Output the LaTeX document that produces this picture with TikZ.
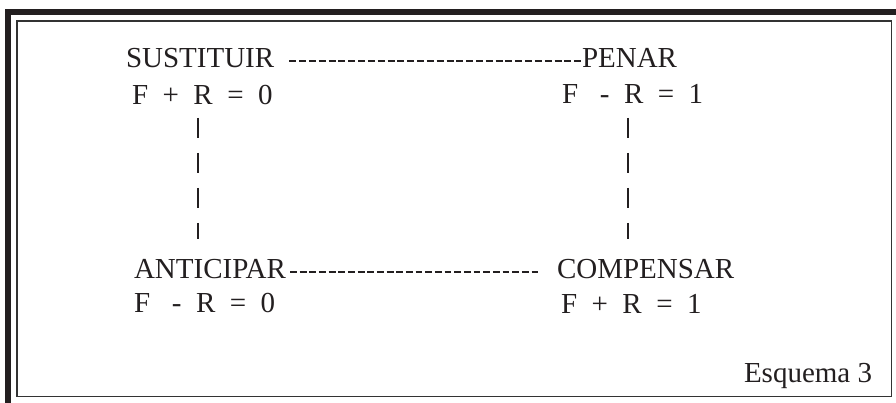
\documentclass[tikz,border=0pt]{standalone}
\usepackage{fontspec}
\setmainfont{Liberation Serif}
\definecolor{ink}{HTML}{231F20}
\begin{document}
\begin{tikzpicture}[x=1pt,y=-1pt,
  lbl/.style={anchor=base west,inner sep=0pt,outer sep=0pt,text=ink,
              font=\fontsize{29}{34}\selectfont},
  hlink/.style={draw=ink,line width=2pt,dash pattern=on 6.9pt off 2.76pt},
  vlink/.style={draw=ink,line width=1.7pt,dash pattern=on 20pt off 15pt},
  frameline/.style={draw=black!80,line width=1.3pt}]
% page
\useasboundingbox (0,0) rectangle (896,403);
\fill[white] (0,0) rectangle (896,403);
% heavy outer rule (left and top) and thin inner frame
\fill[ink] (5,9) rectangle (11,403);
\fill[ink] (5,9) rectangle (896,15);
\draw[frameline] (17,21) rectangle (891.7,396.7);
% the four operations and their formulas
\node[lbl] (sust)  at (126,68)  {SUSTITUIR};
\node[lbl] (penar) at (582,68)  {PENAR};
\node[lbl] (eqA)   at (132,105) {F\ \ +\ \ R\ \ =\ \ 0};
\node[lbl] (eqB)   at (562,104) {F\ \ \ -\ \ R\ \ =\ \ 1};
\node[lbl] (antic) at (134,278) {ANTICIPAR};
\node[lbl] (comp)  at (557,278) {COMPENSAR};
\node[lbl] (eqC)   at (134,312) {F\ \ \ -\ \ R\ \ =\ \ 0};
\node[lbl] (eqD)   at (561,313) {F\ \ +\ \ R\ \ =\ \ 1};
\node[lbl] (esq)   at (744,382) {Esquema 3};
% horizontal links
\draw[hlink,dash pattern=on 7pt off 2.83pt]
             ([xshift=15pt,yshift=6.5pt]sust.base east)
          -- ([xshift=-1pt,yshift=6.5pt]penar.base west);
\draw[hlink] ([xshift=4pt,yshift=6.5pt]antic.base east)
          -- ([xshift=-16pt,yshift=6.5pt]comp.base west);
% vertical links
\draw[vlink] ([xshift=66pt,yshift=-13pt]eqA.base west)
          -- ([xshift=64pt,yshift=19.5pt]antic.north west);
\draw[vlink] ([xshift=66pt,yshift=-14pt]eqB.base west)
          -- ([xshift=71pt,yshift=19.5pt]comp.north west);
\end{tikzpicture}
\end{document}
